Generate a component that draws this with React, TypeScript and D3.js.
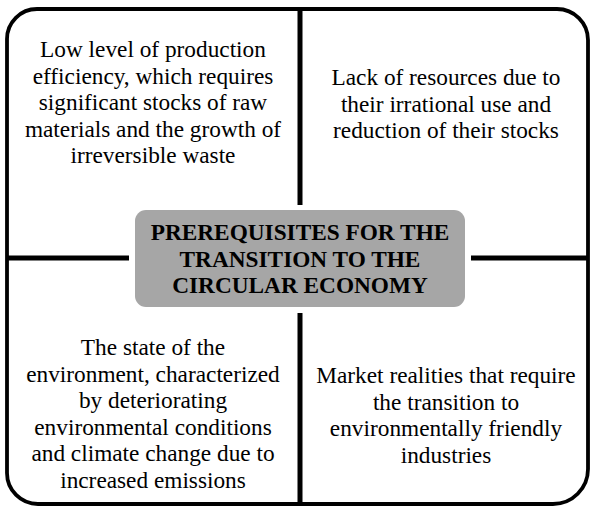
import React from "react";
import * as d3 from "d3";

const W = 591;
const H = 508;

const centerTitle = ["PREREQUISITES FOR THE", "TRANSITION TO THE", "CIRCULAR ECONOMY"];
const topLeftLines = [
  "Low level of production",
  "efficiency, which requires",
  "significant stocks of raw",
  "materials and the growth of",
  "irreversible waste",
];
const topRightLines = ["Lack of resources due to", "their irrational use and", "reduction of their stocks"];
const bottomLeftLines = [
  "The state of the",
  "environment, characterized",
  "by deteriorating",
  "environmental conditions",
  "and climate change due to",
  "increased emissions",
];
const bottomRightLines = [
  "Market realities that require",
  "the transition to",
  "environmentally friendly",
  "industries",
];

const L = 7, R = 588, T = 9, B = 504;
const CX = 300, CY = 258;
const box = { x0: 135, x1: 465, y0: 210, y1: 307 };
const LH = 26.6;
const FAMILY = `"Liberation Serif", "Times New Roman", Tinos, serif`;

function outline() {
  const p = d3.path();
  const rTL = 30, rTR = 31, rBR = 35, rBL = 31;
  p.moveTo(L + rTL, T);
  p.lineTo(R - rTR, T);
  p.arcTo(R, T, R, T + rTR, rTR);
  p.lineTo(R, B - rBR);
  p.arcTo(R, B, R - rBR, B, rBR);
  p.lineTo(L + rBL, B);
  p.arcTo(L, B, L, B - rBL, rBL);
  p.lineTo(L, T + rTL);
  p.arcTo(L, T, L + rTL, T, rTL);
  p.closePath();
  return p.toString();
}

function Lines({ lines, x, y0, bold = false }: { lines: string[]; x: number; y0: number; bold?: boolean }) {
  return (
    <g>
      {lines.map((l, i) => (
        <text
          key={i}
          x={x}
          y={y0 + i * LH}
          textAnchor="middle"
          fill="#000"
          style={{ fontFamily: FAMILY, fontSize: "23.3px", fontWeight: bold ? "bold" : "normal" }}
        >
          {l}
        </text>
      ))}
    </g>
  );
}

export default function App() {
  return (
    <div style={{ position: "absolute", left: 0, top: 0 }}>
      <svg width={W} height={H} style={{ fontFamily: FAMILY }}>
        <rect width={W} height={H} fill="#fff" />
        <path d={outline()} fill="#fff" stroke="#000" strokeWidth={3.8} />
        <line x1={CX} x2={CX} y1={T} y2={205} stroke="#000" strokeWidth={5} />
        <line x1={CX} x2={CX} y1={313} y2={B} stroke="#000" strokeWidth={5} />
        <line x1={L} x2={129} y1={CY} y2={CY} stroke="#000" strokeWidth={5} />
        <line x1={471} x2={R} y1={CY} y2={CY} stroke="#000" strokeWidth={5} />
        <rect
          x={box.x0}
          y={box.y0}
          width={box.x1 - box.x0}
          height={box.y1 - box.y0}
          rx={11}
          fill="#a6a6a6"
        />
        <Lines lines={centerTitle} x={300} y0={240} bold />
        <Lines lines={topLeftLines} x={153} y0={57} />
        <Lines lines={topRightLines} x={446} y0={85} />
        <Lines lines={bottomLeftLines} x={153} y0={355} />
        <Lines lines={bottomRightLines} x={446} y0={383} />
      </svg>
    </div>
  );
}
